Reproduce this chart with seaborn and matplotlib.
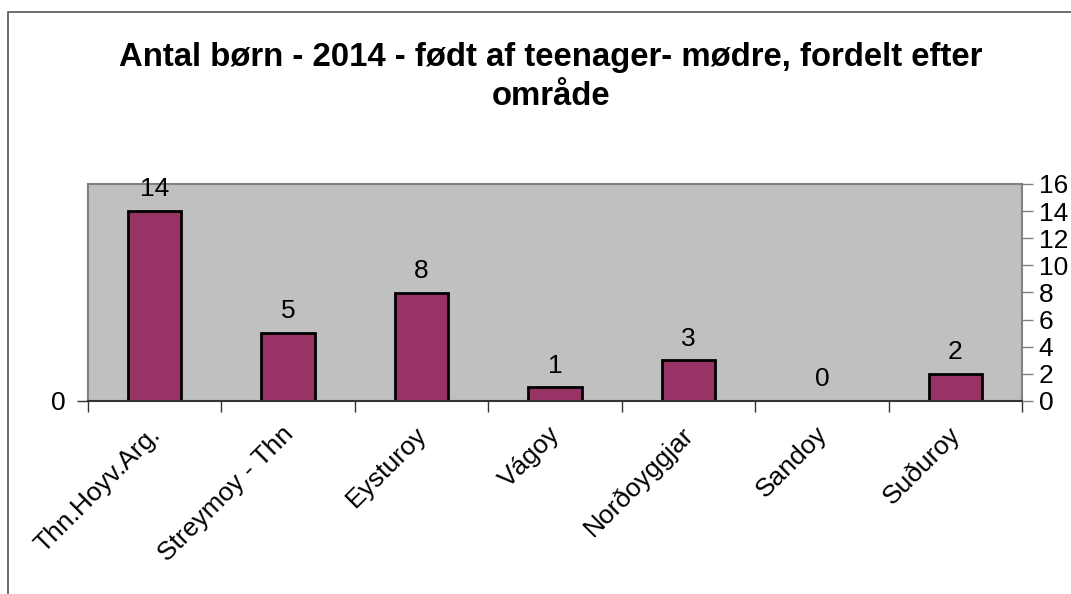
import matplotlib
matplotlib.use("Agg")
import matplotlib.pyplot as plt
import matplotlib.transforms as mtransforms
import pandas as pd
import seaborn as sns
from matplotlib.patches import Rectangle

areas = ["Thn.Hoyv.Arg.", "Streymoy - Thn", "Eysturoy", "Vágoy",
         "Norðoyggjar", "Sandoy", "Suðuroy"]
births = [14, 5, 8, 1, 3, 0, 2]
right_ticks = [0, 2, 4, 6, 8, 10, 12, 14, 16]
title = "Antal børn - 2014 - født af teenager- mødre, fordelt efter\nområde"

sns.set_theme(style="white")
plt.rcParams["font.family"] = ["Liberation Sans", "DejaVu Sans"]
plt.rcParams["text.color"] = "black"
plt.rcParams["xtick.labelcolor"] = "black"
plt.rcParams["ytick.labelcolor"] = "black"

df = pd.DataFrame({"area": areas, "births": births})

fig = plt.figure(figsize=(10.71, 5.94), dpi=100)
fig.patch.set_facecolor("white")
# outer chart border (runs past the right/bottom edge like the original crop)
fig.patches.append(Rectangle((8 / 1071, -0.1), 1.2, 1 - 12 / 594 + 0.1,
                             transform=fig.transFigure, fill=False,
                             edgecolor="#555555", linewidth=1.2))

ax = fig.add_axes([88 / 1071, 1 - 401 / 594, (1022 - 88) / 1071, (401 - 184) / 594])
ax.set_facecolor("#C0C0C0")
sns.barplot(data=df, x="area", y="births", color="#993366", edgecolor="black",
            linewidth=2, width=0.4, saturation=1, ax=ax)
ax.set_ylim(0, 16)
ax.set_xlim(-0.5, len(areas) - 0.5)
ax.set_xlabel("")
ax.set_ylabel("")

for i, v in enumerate(births):
    ax.annotate(str(v), (i, v), xytext=(0, 7), textcoords="offset points",
                ha="center", va="bottom", fontsize=19, color="black")

for side in ["top", "left", "right"]:
    ax.spines[side].set_color("#808080")
    ax.spines[side].set_linewidth(1.5)
ax.spines["bottom"].set_color("#333333")
ax.spines["bottom"].set_linewidth(1.5)

ax.set_yticks([0])
ax.tick_params(axis="y", left=True, length=8, width=1, color="#333333",
               labelsize=19, pad=8)
ax.set_xticks(range(len(areas)))
ax.set_xticklabels(areas, rotation=45, ha="right", rotation_mode="anchor",
                   fontsize=19)
ax.tick_params(axis="x", which="major", length=0, pad=15)
# nudge the rotated labels left so their ends sit on the category centre
shift = mtransforms.ScaledTranslation(-7 / 100, 0, fig.dpi_scale_trans)
for lab in ax.get_xticklabels():
    lab.set_transform(lab.get_transform() + shift)
ax.set_xticks([i - 0.5 for i in range(len(areas) + 1)], minor=True)
ax.tick_params(axis="x", which="minor", bottom=True, length=8, width=1,
               color="#333333")

ax2 = ax.twinx()
ax2.set_ylim(0, 16)
ax2.set_yticks(right_ticks)
ax2.tick_params(axis="y", right=True, length=8, width=1, color="#808080",
                labelsize=19, pad=4)
for side in ax2.spines:
    ax2.spines[side].set_visible(False)

fig.text(551 / 1071, 1 - 77 / 594, title, ha="center", va="center",
         fontsize=23.7, fontweight="bold", linespacing=1.3)

fig.savefig("out.png", dpi=100)
